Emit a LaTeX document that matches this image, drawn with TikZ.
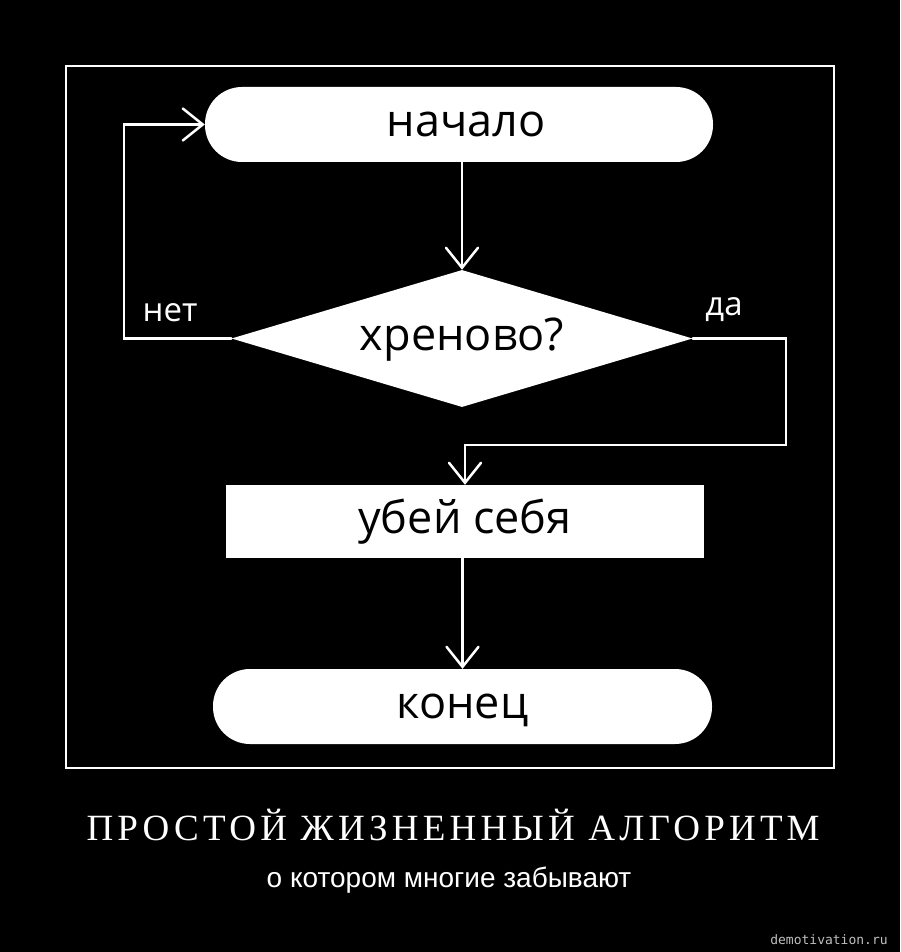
\documentclass[tikz,border=0pt]{standalone}
\usepackage{fontspec}
\setmainfont{Open Sans}
\newfontfamily\titlefont{Liberation Serif}[LetterSpace=11.5]
\newfontfamily\subfont{Liberation Sans}
\newfontfamily\wmfont{DejaVu Sans Mono}
\usetikzlibrary{shapes.geometric,arrows.meta}
\begin{document}
\begin{tikzpicture}[x=1pt,y=-1pt,
  box/.style={fill=white, text=black, inner sep=0pt, font=\fontsize{45}{54}\selectfont, text height=24pt, text depth=0pt},
  stadium/.style={box, rectangle, rounded corners=37pt, minimum height=75pt},
  arr/.style={draw=white, line width=2.5pt, line cap=round, -{Straight Barb[length=20pt,width=32pt,line cap=round]}},
  lbl/.style={text=white, inner sep=0pt, font=\fontsize{33}{40}\selectfont, text height=17.7pt, text depth=0pt},
  frame/.style={draw=white, line width=2.5pt}]
\fill[black] (0,0) rectangle (900,952);
\useasboundingbox (0,0) rectangle (900,952);
\draw[frame] (66,66) rectangle (834,768);

\node[stadium, minimum width=508pt] (s) at (459,124.5) {\hspace{14pt}начало};
\node[box, diamond, aspect=3.37, minimum width=461pt, minimum height=137pt] (d) at (462,338.5) {хреново?};
\node[box, rectangle, minimum width=478pt, minimum height=73pt] (r) at (465,521.5) {убей себя};
\node[stadium, minimum width=499pt] (e) at (462.5,706.5) {конец};

\draw[arr] (d.north |- s.south) -- (d.north);
\coordinate (jn) at (124,338.5);
\draw[arr] (d.west) -- (jn) |- (s.west);
\coordinate (jy) at (786,445);
\draw[arr] (d.east) -| (jy) -- (jy -| r.north) -- (r.north);
\draw[arr] (e.north |- r.south) -- (e.north);

\node[lbl] (no) at (170,313) {нет};
\node[lbl] (yes) at (724,306.5) {да};

\node[text=white, anchor=base, inner sep=0pt, font=\titlefont\fontsize{37}{44}\selectfont] (title) at (453,840) {ПРОСТОЙ ЖИЗНЕННЫЙ АЛГОРИТМ};
\node[text=white, anchor=base, inner sep=0pt, font=\subfont\fontsize{28}{33}\selectfont] (sub) at (449,887) {о котором многие забывают};
\node[text=white!75!black, anchor=base, inner sep=0pt, font=\wmfont\fontsize{13}{16}\selectfont] (wm) at (829,944) {demotivation.ru};
\end{tikzpicture}
\end{document}
